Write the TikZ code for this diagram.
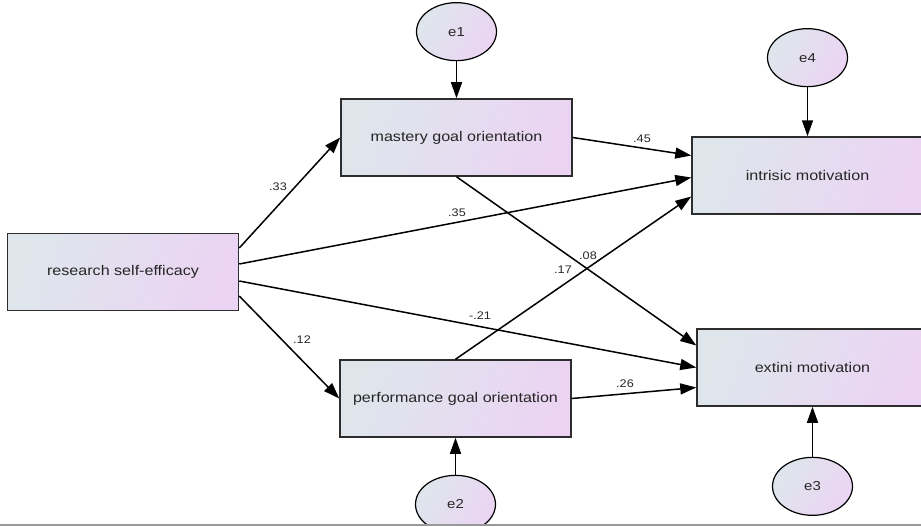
\documentclass[tikz,border=0pt]{standalone}
\usepackage{fontspec}
\setmainfont{Liberation Sans}[FakeStretch=1.15]
\usetikzlibrary{positioning,shapes.geometric,arrows.meta}

\definecolor{amosblue}{RGB}{222,230,236}
\definecolor{amoslilac}{RGB}{235,212,243}
\definecolor{amosline}{RGB}{45,45,45}

\tikzset{
    obs/.style={rectangle, draw=amosline, line width=1.5pt,
        minimum width=231pt, minimum height=77pt,
        left color=amosblue, right color=amoslilac, shading angle=70,
        font=\fontsize{14}{16}\selectfont, text=black!85},
    err/.style={ellipse, draw=black, line width=1.2pt,
        minimum width=80pt, minimum height=58pt,
        left color=amosblue, right color=amoslilac, shading angle=60,
        font=\fontsize{13}{15}\selectfont, text=black!85},
    regr/.style={-{Triangle[length=16pt,width=11pt]}, line width=1.5pt},
    coef/.style={font=\fontsize{11}{13}\selectfont, text=black!85, inner sep=1pt},
}

\begin{document}
\begin{tikzpicture}[x=1pt, y=-1pt]
\useasboundingbox (0,0) rectangle (921,527);

\begin{scope}
\clip (0,0) rectangle (921,524);

\node[obs] (rse) at (123,272) {research self-efficacy};
\node[obs] (mg) at (456.5,137.5) {mastery goal orientation};
\node[obs] (pg) at (455.5,398.5) {performance goal orientation};
\node[obs] (im) at (807.5,175.5) {intrisic motivation};
\node[obs] (em) at (812.5,367.5) {extini motivation};

\node[err, above=37pt of mg] (e1) {e1};
\node[err, above=49pt of im] (e4) {e4};
\node[err, below=37pt of pg] (e2) {e2};
\node[err, below=50pt of em] (e3) {e3};

% paths
\draw[regr] ([yshift=24pt]rse.east) -- (mg.west);
\draw[regr] ([yshift=8pt]rse.east) -- ([yshift=-2pt]im.west);
\draw[regr] ([yshift=-9pt]rse.east) -- (em.west);
\draw[regr] ([yshift=-24pt]rse.east) -- (pg.west);
\draw[regr] (mg.east) -- ([yshift=20pt]im.west);
\draw[regr] (mg.south) -- ([yshift=22pt]em.west);
\draw[regr] (pg.north) -- ([yshift=-21pt]im.west);
\draw[regr] (pg.east) -- ([yshift=-20pt]em.west);

% residuals
\draw[regr] (e1) -- (mg);
\draw[regr] (e4) -- (im);
\draw[regr] (e2) -- (pg);
\draw[regr] (e3) -- (em);

% coefficients
\node[coef] (c33) at (278,187) {.33};
\node[coef] (c35) at (457,213) {.35};
\node[coef] (c12) at (302,340) {.12};
\node[coef] (c21) at (480,316) {-.21};
\node[coef] (c45) at (642,139) {.45};
\node[coef] (c08) at (588,256) {.08};
\node[coef] (c17) at (563,270) {.17};
\node[coef] (c26) at (625,384) {.26};
\end{scope}

\draw[gray!80, line width=1.5pt] (0,525) -- (921,525);
\end{tikzpicture}
\end{document}
